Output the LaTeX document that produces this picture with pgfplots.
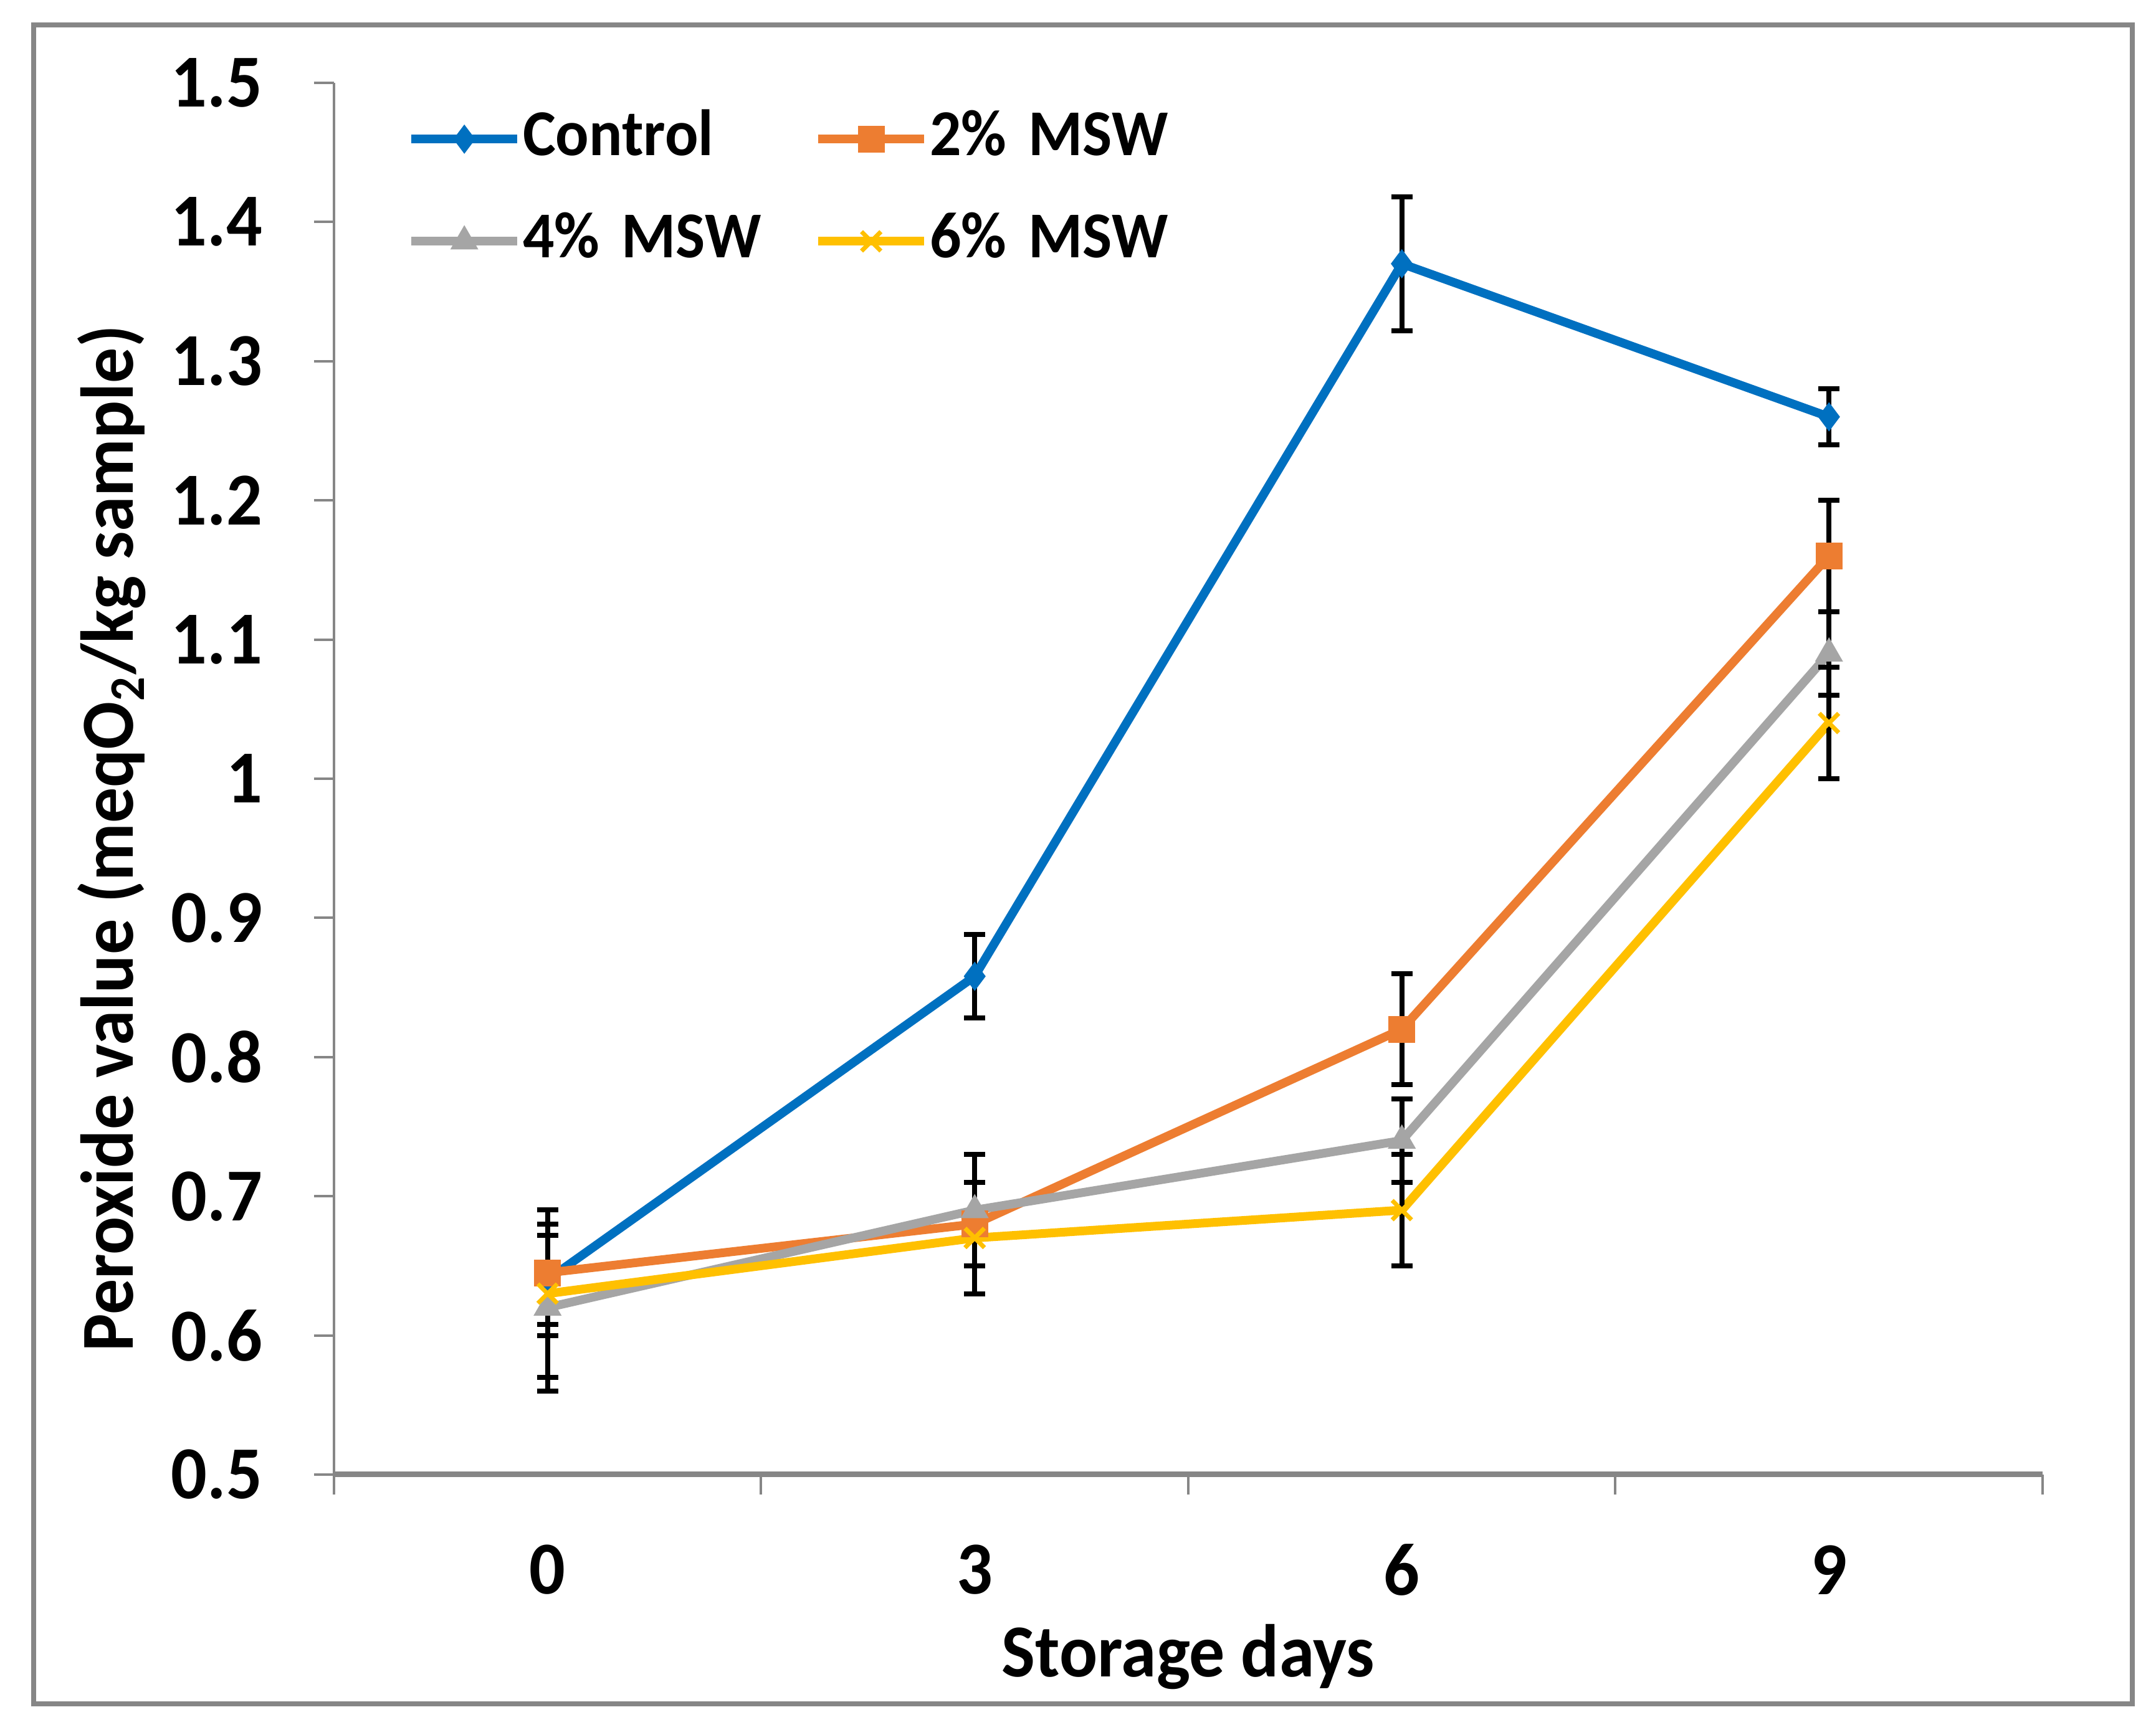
\documentclass[border=0pt]{standalone}
\usepackage{fontspec}
\setmainfont{Carlito}[FakeStretch=0.95]
\usepackage{pgfplots}
\pgfplotsset{compat=1.18}
\definecolor{cblue}{RGB}{0,112,192}
\definecolor{corange}{RGB}{237,125,49}
\definecolor{cgray}{RGB}{165,165,165}
\definecolor{cyellow}{RGB}{255,192,0}
\definecolor{axgray}{RGB}{134,134,134}
\pgfplotsset{
  myerr/.style={error bars/.cd, y dir=both, y explicit,
    error bar style={black, line width=0.8pt, solid},
    error mark options={black, rotate=90, mark size=1.7pt, line width=0.8pt, solid}},
}
\begin{document}
\begin{tikzpicture}
\useasboundingbox (-53.6pt,-41pt) rectangle (292.4pt,236.7pt);
\fill[white] (-53.6pt,-41pt) rectangle (292.4pt,236.7pt);
\draw[axgray, line width=0.8pt] (-48.2pt,-36.8pt) rectangle (288.6pt,232.7pt);
\begin{axis}[
  at={(0pt,0pt)}, anchor=south west,
  width=274.2pt, height=223.4pt, scale only axis,
  xmin=-0.5, xmax=3.5, ymin=0.5, ymax=1.5,
  axis x line*=bottom, axis y line*=left,
  x axis line style={axgray, line width=0.9pt, -},
  y axis line style={axgray, line width=0.4pt, -},
  tick align=outside, major tick length=3.2pt,
  ytick={0.5,0.6,0.7,0.8,0.9,1,1.1,1.2,1.3,1.4,1.5},
  yticklabels={0.5,0.6,0.7,0.8,0.9,1,1.1,1.2,1.3,1.4,1.5},
  ytick style={axgray, line width=0.4pt},
  xtick={-0.5,0.5,1.5,2.5,3.5},
  xticklabels={},
  xtick style={axgray, line width=0.4pt},
  extra x ticks={0,1,2,3},
  extra x tick labels={0,3,6,9},
  extra x tick style={major tick length=0pt},
  yticklabel style={font=\bfseries\fontsize{12}{14}\selectfont, anchor=east, inner sep=0pt, xshift=-8.1pt},
  xticklabel style={font=\bfseries\fontsize{12}{14}\selectfont, anchor=center, inner sep=0pt, yshift=-15.3pt},
  xlabel={Storage days},
  xlabel style={font=\bfseries\fontsize{12}{14}\selectfont, at={(axis description cs:0.5,-0.1312)}, anchor=center, inner sep=0pt},
  ylabel={Peroxide value (meqO\textsubscript{2}/kg sample)},
  ylabel style={font=\bfseries\fontsize{12}{14}\selectfont, at={(axis description cs:-0.1302,0.457)}, anchor=center, inner sep=0pt},
  legend columns=2,
  legend style={draw=none, fill=none, at={(axis description cs:0.042,0.981)}, anchor=north west, inner sep=0pt,
    column sep=0.2pt, row sep=7.2pt, font=\bfseries\fontsize{10.5}{12}\selectfont,
    nodes={inner sep=0pt, text height=7.2pt, text depth=2pt, text width=46.5pt, align=left}},
  legend image code/.code={\draw[mark repeat=2,mark phase=2,#1] plot coordinates {(0pt,0pt) (8.5pt,0pt) (17pt,0pt)};},
  every axis plot/.append style={line width=1.4pt},
]
\addplot[color=cblue, mark=diamond*, mark size=2.1pt, mark options={solid, fill=cblue, line width=0.3pt}, myerr]
  table[x=x, y=y, y error=e] {
x y e
0 0.640 0.032
1 0.858 0.030
2 1.370 0.048
3 1.260 0.020
};
\addlegendentry{Control}
\addplot[color=corange, mark=square*, mark size=2pt, mark options={solid, fill=corange, line width=0.3pt}, myerr]
  table[x=x, y=y, y error=e] {
x y e
0 0.645 0.045
1 0.680 0.050
2 0.820 0.040
3 1.160 0.040
};
\addlegendentry{2\% MSW}
\addplot[color=cgray, mark=triangle*, mark size=2.3pt, mark options={solid, fill=cgray, line width=0.3pt}, myerr]
  table[x=x, y=y, y error=e] {
x y e
0 0.620 0.060
1 0.690 0.040
2 0.740 0.030
3 1.090 0.030
};
\addlegendentry{4\% MSW}
\addplot[color=cyellow, mark=x, mark size=2.2pt, mark options={solid, line width=0.7pt}, myerr]
  table[x=x, y=y, y error=e] {
x y e
0 0.630 0.060
1 0.670 0.040
2 0.690 0.040
3 1.040 0.040
};
\addlegendentry{6\% MSW}
\end{axis}
\end{tikzpicture}
\end{document}
